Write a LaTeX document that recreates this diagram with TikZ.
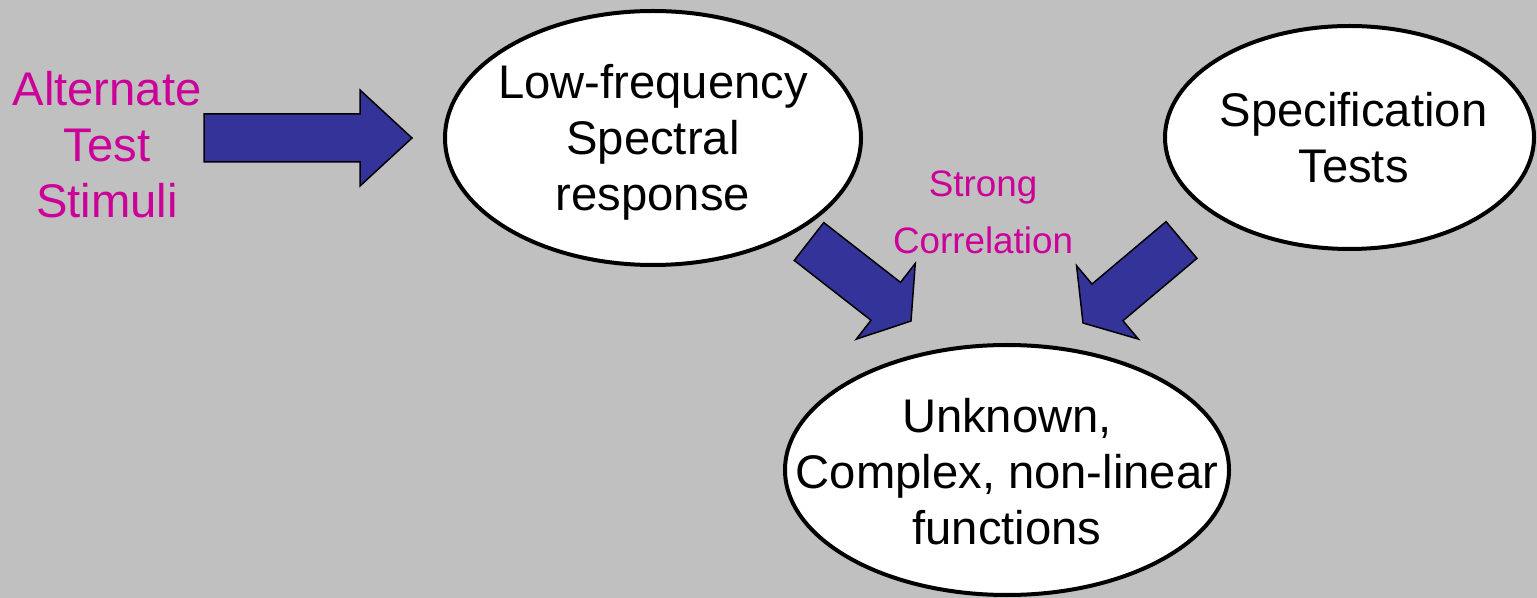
\documentclass[tikz,border=0pt]{standalone}
\usepackage{fontspec}
\setmainfont{Liberation Sans}
\usepackage{tikz}
\usetikzlibrary{shapes.geometric,calc,positioning}

\definecolor{bggray}{RGB}{192,192,192}
\definecolor{arrowblue}{RGB}{51,51,153}
\definecolor{stimpink}{RGB}{204,0,153}

\tikzset{
  bubble/.style={ellipse,draw=black,line width=2pt,fill=white,inner sep=0pt},
  bubbletext/.style={align=center,inner sep=0pt,font=\fontsize{23.6}{28}\selectfont},
  pinktext/.style={align=center,inner sep=0pt,text=stimpink},
  fatarrow/.style={draw=black,line width=0.75pt,fill=arrowblue,line join=miter},
}

% block arrow: tail, tip, head length
\newcommand{\blockarrow}[3]{%
  \draw[fatarrow] ($(#1)!12pt!90:(#2)$)
    -- ($(#2)!#3!(#1)!12pt!90:(#2)$)
    -- ($(#2)!#3!(#1)!24pt!90:(#2)$)
    -- (#2)
    -- ($(#2)!#3!(#1)!24pt!-90:(#2)$)
    -- ($(#2)!#3!(#1)!12pt!-90:(#2)$)
    -- ($(#1)!12pt!-90:(#2)$) -- cycle;}

\begin{document}
\begin{tikzpicture}[x=0.5pt,y=-0.5pt]
\fill[bggray] (0,0) rectangle (1537,598);
\useasboundingbox (0,0) rectangle (1537,598);

\node[bubble,minimum width=208pt,minimum height=127pt] (low) at (653,138) {};
\node[bubbletext] (lowtext) at ([yshift=-2pt]low.center) {Low-frequency\\Spectral\\response};

\node[bubble,minimum width=184.5pt,minimum height=111.5pt] (spec) at (1349.5,137.5) {};
\node[bubbletext] (spectext) at ([xshift=2pt]spec.center) {Specification\\Tests};

\node[bubble,minimum width=222pt,minimum height=125pt] (unknown) at (1007,470) {};
\node[bubbletext] (unknowntext) at ([yshift=-1pt]unknown.center) {Unknown,\\Complex, non-linear\\functions};

\node[pinktext,font=\fontsize{23.6}{28}\selectfont] (stimuli) at (107,145) {Alternate\\Test\\Stimuli};
\node[pinktext,font=\fontsize{18.4}{28.5}\selectfont] (corr) at (983,212) {Strong\\Correlation};

\coordinate (stimtail) at (204,138);
\coordinate (stimtip) at (412,138);
\coordinate (lowtail) at (809,241.5);
\coordinate (lowtip) at (911,321);
\coordinate (spectail) at (1181.5,240);
\coordinate (spectip) at (1083,323);

\blockarrow{stimtail}{stimtip}{26pt}
\blockarrow{lowtail}{lowtip}{16pt}
\blockarrow{spectail}{spectip}{16pt}

\end{tikzpicture}
\end{document}
